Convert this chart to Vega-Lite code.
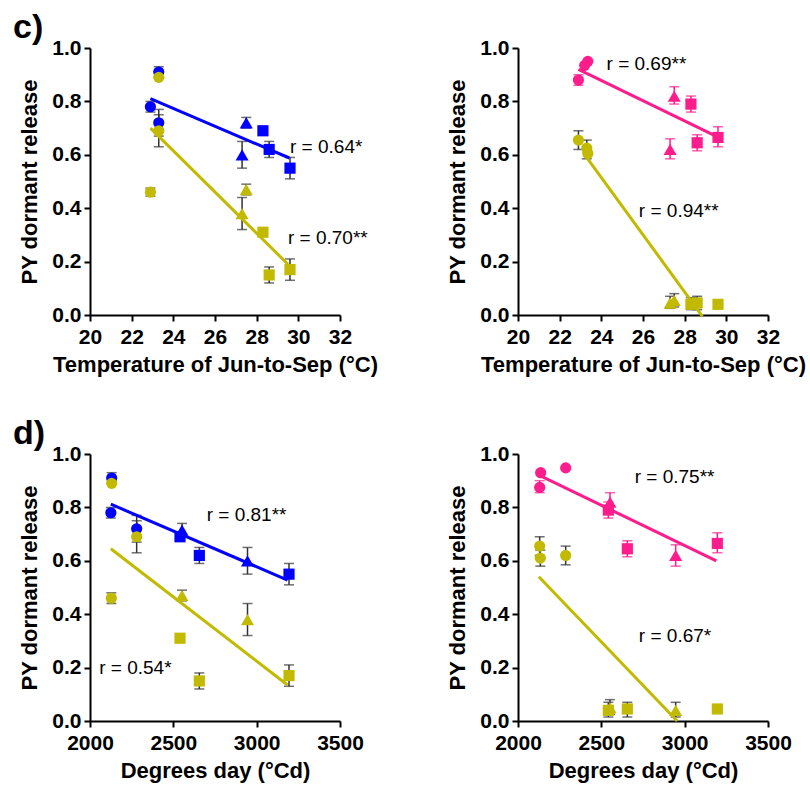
{
  "$schema": "https://vega.github.io/schema/vega-lite/v6.json",
  "padding": {"left": 13, "top": 11, "right": 5, "bottom": 5},
  "background": "white",
  "config": {
    "view": {"stroke": null},
    "font": "Liberation Sans",
    "axis": {"grid": false, "domainColor": "#000", "domainWidth": 2, "tickColor": "#000", "tickWidth": 2, "tickSize": 6, "labelFont": "Liberation Sans", "labelFontSize": 21, "labelFontWeight": "bold", "labelColor": "#000", "titleFont": "Liberation Sans", "titleFontSize": 22, "titleFontWeight": "bold", "titleColor": "#000", "labelPadding": 3, "labelFlush": false, "labelOverlap": false},
    "axisX": {"titlePadding": 7, "labelPadding": 5},
    "axisY": {"titlePadding": 10}
  },
  "datasets": {
    "pts": [
      {"p": "cL", "s": "blue", "sh": "circle", "x": 23.3, "y": 0.91, "lo": 0.89, "hi": 0.93},
      {"p": "cL", "s": "blue", "sh": "circle", "x": 22.9, "y": 0.78, "lo": 0.76, "hi": 0.80},
      {"p": "cL", "s": "blue", "sh": "circle", "x": 23.3, "y": 0.72, "lo": 0.67, "hi": 0.77},
      {"p": "cL", "s": "blue", "sh": "triangle", "x": 27.5, "y": 0.72, "lo": 0.70, "hi": 0.74},
      {"p": "cL", "s": "blue", "sh": "triangle", "x": 27.3, "y": 0.60, "lo": 0.55, "hi": 0.65},
      {"p": "cL", "s": "blue", "sh": "square", "x": 28.3, "y": 0.69},
      {"p": "cL", "s": "blue", "sh": "square", "x": 28.6, "y": 0.62, "lo": 0.59, "hi": 0.65},
      {"p": "cL", "s": "blue", "sh": "square", "x": 29.6, "y": 0.55, "lo": 0.51, "hi": 0.59},
      {"p": "cL", "s": "yellow", "sh": "circle", "x": 23.3, "y": 0.89},
      {"p": "cL", "s": "yellow", "sh": "circle", "x": 22.9, "y": 0.46, "lo": 0.445, "hi": 0.475},
      {"p": "cL", "s": "yellow", "sh": "circle", "x": 23.3, "y": 0.69, "lo": 0.63, "hi": 0.75},
      {"p": "cL", "s": "yellow", "sh": "triangle", "x": 27.5, "y": 0.47, "lo": 0.45, "hi": 0.49},
      {"p": "cL", "s": "yellow", "sh": "triangle", "x": 27.3, "y": 0.38, "lo": 0.32, "hi": 0.44},
      {"p": "cL", "s": "yellow", "sh": "square", "x": 28.3, "y": 0.31},
      {"p": "cL", "s": "yellow", "sh": "square", "x": 28.6, "y": 0.15, "lo": 0.12, "hi": 0.18},
      {"p": "cL", "s": "yellow", "sh": "square", "x": 29.6, "y": 0.17, "lo": 0.13, "hi": 0.21},

      {"p": "cR", "s": "pink", "sh": "circle", "x": 23.35, "y": 0.95},
      {"p": "cR", "s": "pink", "sh": "circle", "x": 23.2, "y": 0.935},
      {"p": "cR", "s": "pink", "sh": "circle", "x": 22.9, "y": 0.88, "lo": 0.86, "hi": 0.90},
      {"p": "cR", "s": "pink", "sh": "triangle", "x": 27.5, "y": 0.82, "lo": 0.79, "hi": 0.855},
      {"p": "cR", "s": "pink", "sh": "triangle", "x": 27.3, "y": 0.62, "lo": 0.585, "hi": 0.66},
      {"p": "cR", "s": "pink", "sh": "square", "x": 28.3, "y": 0.79, "lo": 0.76, "hi": 0.82},
      {"p": "cR", "s": "pink", "sh": "square", "x": 28.6, "y": 0.645, "lo": 0.615, "hi": 0.675},
      {"p": "cR", "s": "pink", "sh": "square", "x": 29.6, "y": 0.665, "lo": 0.63, "hi": 0.705},
      {"p": "cR", "s": "yellow", "sh": "circle", "x": 22.9, "y": 0.655, "lo": 0.62, "hi": 0.69},
      {"p": "cR", "s": "yellow", "sh": "circle", "x": 23.3, "y": 0.625, "lo": 0.585, "hi": 0.655},
      {"p": "cR", "s": "yellow", "sh": "circle", "x": 23.35, "y": 0.605},
      {"p": "cR", "s": "yellow", "sh": "triangle", "x": 27.3, "y": 0.045, "lo": 0.025, "hi": 0.07},
      {"p": "cR", "s": "yellow", "sh": "triangle", "x": 27.5, "y": 0.055, "lo": 0.03, "hi": 0.08},
      {"p": "cR", "s": "yellow", "sh": "square", "x": 28.3, "y": 0.04, "lo": 0.02, "hi": 0.065},
      {"p": "cR", "s": "yellow", "sh": "square", "x": 28.6, "y": 0.045, "lo": 0.02, "hi": 0.07},
      {"p": "cR", "s": "yellow", "sh": "square", "x": 29.6, "y": 0.04},

      {"p": "dL", "s": "blue", "sh": "circle", "x": 2130, "y": 0.91, "lo": 0.89, "hi": 0.93},
      {"p": "dL", "s": "blue", "sh": "circle", "x": 2125, "y": 0.78, "lo": 0.76, "hi": 0.80},
      {"p": "dL", "s": "blue", "sh": "circle", "x": 2280, "y": 0.72, "lo": 0.67, "hi": 0.77},
      {"p": "dL", "s": "blue", "sh": "triangle", "x": 2552, "y": 0.715, "lo": 0.69, "hi": 0.74},
      {"p": "dL", "s": "blue", "sh": "triangle", "x": 2945, "y": 0.60, "lo": 0.55, "hi": 0.65},
      {"p": "dL", "s": "blue", "sh": "square", "x": 2540, "y": 0.69},
      {"p": "dL", "s": "blue", "sh": "square", "x": 2656, "y": 0.62, "lo": 0.59, "hi": 0.65},
      {"p": "dL", "s": "blue", "sh": "square", "x": 3194, "y": 0.55, "lo": 0.51, "hi": 0.59},
      {"p": "dL", "s": "yellow", "sh": "circle", "x": 2130, "y": 0.89},
      {"p": "dL", "s": "yellow", "sh": "circle", "x": 2128, "y": 0.46, "lo": 0.44, "hi": 0.48},
      {"p": "dL", "s": "yellow", "sh": "circle", "x": 2280, "y": 0.69, "lo": 0.63, "hi": 0.75},
      {"p": "dL", "s": "yellow", "sh": "triangle", "x": 2552, "y": 0.47, "lo": 0.45, "hi": 0.49},
      {"p": "dL", "s": "yellow", "sh": "triangle", "x": 2945, "y": 0.38, "lo": 0.32, "hi": 0.44},
      {"p": "dL", "s": "yellow", "sh": "square", "x": 2540, "y": 0.31},
      {"p": "dL", "s": "yellow", "sh": "square", "x": 2656, "y": 0.15, "lo": 0.12, "hi": 0.18},
      {"p": "dL", "s": "yellow", "sh": "square", "x": 3194, "y": 0.17, "lo": 0.13, "hi": 0.21},

      {"p": "dR", "s": "pink", "sh": "circle", "x": 2136, "y": 0.93},
      {"p": "dR", "s": "pink", "sh": "circle", "x": 2130, "y": 0.875, "lo": 0.855, "hi": 0.90},
      {"p": "dR", "s": "pink", "sh": "circle", "x": 2286, "y": 0.948},
      {"p": "dR", "s": "pink", "sh": "triangle", "x": 2552, "y": 0.82, "lo": 0.785, "hi": 0.855},
      {"p": "dR", "s": "pink", "sh": "triangle", "x": 2946, "y": 0.62, "lo": 0.58, "hi": 0.66},
      {"p": "dR", "s": "pink", "sh": "square", "x": 2542, "y": 0.79, "lo": 0.76, "hi": 0.82},
      {"p": "dR", "s": "pink", "sh": "square", "x": 2656, "y": 0.645, "lo": 0.615, "hi": 0.675},
      {"p": "dR", "s": "pink", "sh": "square", "x": 3196, "y": 0.665, "lo": 0.63, "hi": 0.705},
      {"p": "dR", "s": "yellow", "sh": "circle", "x": 2130, "y": 0.655, "lo": 0.62, "hi": 0.69},
      {"p": "dR", "s": "yellow", "sh": "circle", "x": 2134, "y": 0.61, "lo": 0.58, "hi": 0.64},
      {"p": "dR", "s": "yellow", "sh": "circle", "x": 2286, "y": 0.62, "lo": 0.585, "hi": 0.655},
      {"p": "dR", "s": "yellow", "sh": "triangle", "x": 2552, "y": 0.05, "lo": 0.025, "hi": 0.08},
      {"p": "dR", "s": "yellow", "sh": "triangle", "x": 2946, "y": 0.04, "lo": 0.015, "hi": 0.07},
      {"p": "dR", "s": "yellow", "sh": "square", "x": 2542, "y": 0.04, "lo": 0.015, "hi": 0.07},
      {"p": "dR", "s": "yellow", "sh": "square", "x": 2656, "y": 0.045, "lo": 0.015, "hi": 0.07},
      {"p": "dR", "s": "yellow", "sh": "square", "x": 3196, "y": 0.045}
    ],
    "fits": [
      {"p": "cL", "s": "blue", "x": 22.9, "y": 0.81, "xe": 29.57, "ye": 0.588},
      {"p": "cL", "s": "yellow", "x": 22.9, "y": 0.70, "xe": 29.5, "ye": 0.19},
      {"p": "cR", "s": "pink", "x": 22.9, "y": 0.92, "xe": 29.45, "ye": 0.672},
      {"p": "cR", "s": "yellow", "x": 23.25, "y": 0.595, "xe": 28.85, "ye": -0.005},
      {"p": "dL", "s": "blue", "x": 2125, "y": 0.812, "xe": 3185, "ye": 0.528},
      {"p": "dL", "s": "yellow", "x": 2125, "y": 0.645, "xe": 3185, "ye": 0.135},
      {"p": "dR", "s": "pink", "x": 2135, "y": 0.918, "xe": 3190, "ye": 0.60},
      {"p": "dR", "s": "yellow", "x": 2125, "y": 0.54, "xe": 2955, "ye": 0.0}
    ],
    "notes": [
      {"p": "cL", "t": "r = 0.64*", "x": 29.6, "y": 0.63},
      {"p": "cL", "t": "r = 0.70**", "x": 29.5, "y": 0.29},
      {"p": "cR", "t": "r = 0.69**", "x": 24.25, "y": 0.94},
      {"p": "cR", "t": "r = 0.94**", "x": 25.8, "y": 0.39},
      {"p": "dL", "t": "r = 0.81**", "x": 2700, "y": 0.77},
      {"p": "dL", "t": "r = 0.54*", "x": 2055, "y": 0.20},
      {"p": "dR", "t": "r = 0.75**", "x": 2700, "y": 0.915},
      {"p": "dR", "t": "r = 0.67*", "x": 2725, "y": 0.32}
    ]
  },
  "columns": 2,
  "spacing": {"row": 139, "column": 178},
  "bounds": "flush",
  "concat": [
    {
      "width": 250, "height": 267,
      "title": {"text": "c)", "anchor": "start", "frame": "group", "dx": -77, "offset": -35, "baseline": "alphabetic", "fontSize": 34, "fontWeight": "bold", "color": "#000", "font": "Liberation Sans"},
      "encoding": {
        "x": {"field": "x", "type": "quantitative", "scale": {"domain": [20, 32], "nice": false, "zero": false}, "axis": {"values": [20, 22, 24, 26, 28, 30, 32], "format": "d"}, "title": "Temperature of Jun-to-Sep (°C)"},
        "y": {"field": "y", "type": "quantitative", "scale": {"domain": [0, 1], "nice": false}, "axis": {"values": [0, 0.2, 0.4, 0.6, 0.8, 1], "format": ".1f"}, "title": "PY dormant release"}
      },
      "layer": [
        {"data": {"name": "pts"}, "transform": [{"filter": "datum.p === 'cL' && isValid(datum.lo)"}], "mark": {"type": "rule", "strokeWidth": 1.5},
         "encoding": {"y": {"field": "lo", "type": "quantitative", "scale": {"domain": [0, 1], "nice": false}, "title": "PY dormant release"}, "y2": {"field": "hi"}, "color": {"condition": {"test": "datum.s === 'pink'", "value": "#FF1C8D"}, "value": "#333333"}}},
        {"data": {"name": "pts"}, "transform": [{"filter": "datum.p === 'cL' && isValid(datum.lo)"}], "mark": {"type": "tick", "orient": "horizontal", "size": 10, "thickness": 1.5},
         "encoding": {"y": {"field": "lo", "type": "quantitative", "scale": {"domain": [0, 1], "nice": false}, "title": "PY dormant release"}, "color": {"condition": {"test": "datum.s === 'pink'", "value": "#FF1C8D"}, "value": "#333333"}}},
        {"data": {"name": "pts"}, "transform": [{"filter": "datum.p === 'cL' && isValid(datum.lo)"}], "mark": {"type": "tick", "orient": "horizontal", "size": 10, "thickness": 1.5},
         "encoding": {"y": {"field": "hi", "type": "quantitative", "scale": {"domain": [0, 1], "nice": false}, "title": "PY dormant release"}, "color": {"condition": {"test": "datum.s === 'pink'", "value": "#FF1C8D"}, "value": "#333333"}}},
        {"data": {"name": "pts"}, "transform": [{"filter": "datum.p === 'cL'"}], "mark": {"type": "point", "filled": true, "opacity": 1},
         "encoding": {"size": {"condition": {"test": "datum.sh === 'triangle'", "value": 170}, "value": 125}, "color": {"field": "s", "type": "nominal", "scale": {"domain": ["blue", "yellow", "pink"], "range": ["#0000FF", "#C2BA00", "#FF1C8D"]}, "legend": null}, "shape": {"field": "sh", "type": "nominal", "scale": {"domain": ["circle", "triangle", "square"], "range": ["circle", "triangle-up", "square"]}, "legend": null}}},
        {"data": {"name": "fits"}, "transform": [{"filter": "datum.p === 'cL'"}], "mark": {"type": "rule", "strokeWidth": 3},
         "encoding": {"x2": {"field": "xe"}, "y2": {"field": "ye"}, "color": {"field": "s", "type": "nominal", "scale": {"domain": ["blue", "yellow", "pink"], "range": ["#0000FF", "#C2BA00", "#FF1C8D"]}, "legend": null}}},
        {"data": {"name": "notes"}, "transform": [{"filter": "datum.p === 'cL'"}], "mark": {"type": "text", "align": "left", "baseline": "middle", "fontSize": 19, "font": "Liberation Sans", "color": "#000"},
         "encoding": {"text": {"field": "t"}}}
      ]
    },
    {
      "width": 250, "height": 267,
      "encoding": {
        "x": {"field": "x", "type": "quantitative", "scale": {"domain": [20, 32], "nice": false, "zero": false}, "axis": {"values": [20, 22, 24, 26, 28, 30, 32], "format": "d"}, "title": "Temperature of Jun-to-Sep (°C)"},
        "y": {"field": "y", "type": "quantitative", "scale": {"domain": [0, 1], "nice": false}, "axis": {"values": [0, 0.2, 0.4, 0.6, 0.8, 1], "format": ".1f"}, "title": "PY dormant release"}
      },
      "layer": [
        {"data": {"name": "pts"}, "transform": [{"filter": "datum.p === 'cR' && isValid(datum.lo)"}], "mark": {"type": "rule", "strokeWidth": 1.5},
         "encoding": {"y": {"field": "lo", "type": "quantitative", "scale": {"domain": [0, 1], "nice": false}, "title": "PY dormant release"}, "y2": {"field": "hi"}, "color": {"condition": {"test": "datum.s === 'pink'", "value": "#FF1C8D"}, "value": "#333333"}}},
        {"data": {"name": "pts"}, "transform": [{"filter": "datum.p === 'cR' && isValid(datum.lo)"}], "mark": {"type": "tick", "orient": "horizontal", "size": 10, "thickness": 1.5},
         "encoding": {"y": {"field": "lo", "type": "quantitative", "scale": {"domain": [0, 1], "nice": false}, "title": "PY dormant release"}, "color": {"condition": {"test": "datum.s === 'pink'", "value": "#FF1C8D"}, "value": "#333333"}}},
        {"data": {"name": "pts"}, "transform": [{"filter": "datum.p === 'cR' && isValid(datum.lo)"}], "mark": {"type": "tick", "orient": "horizontal", "size": 10, "thickness": 1.5},
         "encoding": {"y": {"field": "hi", "type": "quantitative", "scale": {"domain": [0, 1], "nice": false}, "title": "PY dormant release"}, "color": {"condition": {"test": "datum.s === 'pink'", "value": "#FF1C8D"}, "value": "#333333"}}},
        {"data": {"name": "pts"}, "transform": [{"filter": "datum.p === 'cR'"}], "mark": {"type": "point", "filled": true, "opacity": 1},
         "encoding": {"size": {"condition": {"test": "datum.sh === 'triangle'", "value": 170}, "value": 125}, "color": {"field": "s", "type": "nominal", "scale": {"domain": ["blue", "yellow", "pink"], "range": ["#0000FF", "#C2BA00", "#FF1C8D"]}, "legend": null}, "shape": {"field": "sh", "type": "nominal", "scale": {"domain": ["circle", "triangle", "square"], "range": ["circle", "triangle-up", "square"]}, "legend": null}}},
        {"data": {"name": "fits"}, "transform": [{"filter": "datum.p === 'cR'"}], "mark": {"type": "rule", "strokeWidth": 3},
         "encoding": {"x2": {"field": "xe"}, "y2": {"field": "ye"}, "color": {"field": "s", "type": "nominal", "scale": {"domain": ["blue", "yellow", "pink"], "range": ["#0000FF", "#C2BA00", "#FF1C8D"]}, "legend": null}}},
        {"data": {"name": "notes"}, "transform": [{"filter": "datum.p === 'cR'"}], "mark": {"type": "text", "align": "left", "baseline": "middle", "fontSize": 19, "font": "Liberation Sans", "color": "#000"},
         "encoding": {"text": {"field": "t"}}}
      ]
    },
    {
      "width": 250, "height": 267,
      "title": {"text": "d)", "anchor": "start", "frame": "group", "dx": -77, "offset": -35, "baseline": "alphabetic", "fontSize": 34, "fontWeight": "bold", "color": "#000", "font": "Liberation Sans"},
      "encoding": {
        "x": {"field": "x", "type": "quantitative", "scale": {"domain": [2000, 3500], "nice": false, "zero": false}, "axis": {"values": [2000, 2500, 3000, 3500], "format": "d"}, "title": "Degrees day (°Cd)"},
        "y": {"field": "y", "type": "quantitative", "scale": {"domain": [0, 1], "nice": false}, "axis": {"values": [0, 0.2, 0.4, 0.6, 0.8, 1], "format": ".1f"}, "title": "PY dormant release"}
      },
      "layer": [
        {"data": {"name": "pts"}, "transform": [{"filter": "datum.p === 'dL' && isValid(datum.lo)"}], "mark": {"type": "rule", "strokeWidth": 1.5},
         "encoding": {"y": {"field": "lo", "type": "quantitative", "scale": {"domain": [0, 1], "nice": false}, "title": "PY dormant release"}, "y2": {"field": "hi"}, "color": {"condition": {"test": "datum.s === 'pink'", "value": "#FF1C8D"}, "value": "#333333"}}},
        {"data": {"name": "pts"}, "transform": [{"filter": "datum.p === 'dL' && isValid(datum.lo)"}], "mark": {"type": "tick", "orient": "horizontal", "size": 10, "thickness": 1.5},
         "encoding": {"y": {"field": "lo", "type": "quantitative", "scale": {"domain": [0, 1], "nice": false}, "title": "PY dormant release"}, "color": {"condition": {"test": "datum.s === 'pink'", "value": "#FF1C8D"}, "value": "#333333"}}},
        {"data": {"name": "pts"}, "transform": [{"filter": "datum.p === 'dL' && isValid(datum.lo)"}], "mark": {"type": "tick", "orient": "horizontal", "size": 10, "thickness": 1.5},
         "encoding": {"y": {"field": "hi", "type": "quantitative", "scale": {"domain": [0, 1], "nice": false}, "title": "PY dormant release"}, "color": {"condition": {"test": "datum.s === 'pink'", "value": "#FF1C8D"}, "value": "#333333"}}},
        {"data": {"name": "pts"}, "transform": [{"filter": "datum.p === 'dL'"}], "mark": {"type": "point", "filled": true, "opacity": 1},
         "encoding": {"size": {"condition": {"test": "datum.sh === 'triangle'", "value": 170}, "value": 125}, "color": {"field": "s", "type": "nominal", "scale": {"domain": ["blue", "yellow", "pink"], "range": ["#0000FF", "#C2BA00", "#FF1C8D"]}, "legend": null}, "shape": {"field": "sh", "type": "nominal", "scale": {"domain": ["circle", "triangle", "square"], "range": ["circle", "triangle-up", "square"]}, "legend": null}}},
        {"data": {"name": "fits"}, "transform": [{"filter": "datum.p === 'dL'"}], "mark": {"type": "rule", "strokeWidth": 3},
         "encoding": {"x2": {"field": "xe"}, "y2": {"field": "ye"}, "color": {"field": "s", "type": "nominal", "scale": {"domain": ["blue", "yellow", "pink"], "range": ["#0000FF", "#C2BA00", "#FF1C8D"]}, "legend": null}}},
        {"data": {"name": "notes"}, "transform": [{"filter": "datum.p === 'dL'"}], "mark": {"type": "text", "align": "left", "baseline": "middle", "fontSize": 19, "font": "Liberation Sans", "color": "#000"},
         "encoding": {"text": {"field": "t"}}}
      ]
    },
    {
      "width": 250, "height": 267,
      "encoding": {
        "x": {"field": "x", "type": "quantitative", "scale": {"domain": [2000, 3500], "nice": false, "zero": false}, "axis": {"values": [2000, 2500, 3000, 3500], "format": "d"}, "title": "Degrees day (°Cd)"},
        "y": {"field": "y", "type": "quantitative", "scale": {"domain": [0, 1], "nice": false}, "axis": {"values": [0, 0.2, 0.4, 0.6, 0.8, 1], "format": ".1f"}, "title": "PY dormant release"}
      },
      "layer": [
        {"data": {"name": "pts"}, "transform": [{"filter": "datum.p === 'dR' && isValid(datum.lo)"}], "mark": {"type": "rule", "strokeWidth": 1.5},
         "encoding": {"y": {"field": "lo", "type": "quantitative", "scale": {"domain": [0, 1], "nice": false}, "title": "PY dormant release"}, "y2": {"field": "hi"}, "color": {"condition": {"test": "datum.s === 'pink'", "value": "#FF1C8D"}, "value": "#333333"}}},
        {"data": {"name": "pts"}, "transform": [{"filter": "datum.p === 'dR' && isValid(datum.lo)"}], "mark": {"type": "tick", "orient": "horizontal", "size": 10, "thickness": 1.5},
         "encoding": {"y": {"field": "lo", "type": "quantitative", "scale": {"domain": [0, 1], "nice": false}, "title": "PY dormant release"}, "color": {"condition": {"test": "datum.s === 'pink'", "value": "#FF1C8D"}, "value": "#333333"}}},
        {"data": {"name": "pts"}, "transform": [{"filter": "datum.p === 'dR' && isValid(datum.lo)"}], "mark": {"type": "tick", "orient": "horizontal", "size": 10, "thickness": 1.5},
         "encoding": {"y": {"field": "hi", "type": "quantitative", "scale": {"domain": [0, 1], "nice": false}, "title": "PY dormant release"}, "color": {"condition": {"test": "datum.s === 'pink'", "value": "#FF1C8D"}, "value": "#333333"}}},
        {"data": {"name": "pts"}, "transform": [{"filter": "datum.p === 'dR'"}], "mark": {"type": "point", "filled": true, "opacity": 1},
         "encoding": {"size": {"condition": {"test": "datum.sh === 'triangle'", "value": 170}, "value": 125}, "color": {"field": "s", "type": "nominal", "scale": {"domain": ["blue", "yellow", "pink"], "range": ["#0000FF", "#C2BA00", "#FF1C8D"]}, "legend": null}, "shape": {"field": "sh", "type": "nominal", "scale": {"domain": ["circle", "triangle", "square"], "range": ["circle", "triangle-up", "square"]}, "legend": null}}},
        {"data": {"name": "fits"}, "transform": [{"filter": "datum.p === 'dR'"}], "mark": {"type": "rule", "strokeWidth": 3},
         "encoding": {"x2": {"field": "xe"}, "y2": {"field": "ye"}, "color": {"field": "s", "type": "nominal", "scale": {"domain": ["blue", "yellow", "pink"], "range": ["#0000FF", "#C2BA00", "#FF1C8D"]}, "legend": null}}},
        {"data": {"name": "notes"}, "transform": [{"filter": "datum.p === 'dR'"}], "mark": {"type": "text", "align": "left", "baseline": "middle", "fontSize": 19, "font": "Liberation Sans", "color": "#000"},
         "encoding": {"text": {"field": "t"}}}
      ]
    }
  ]
}
